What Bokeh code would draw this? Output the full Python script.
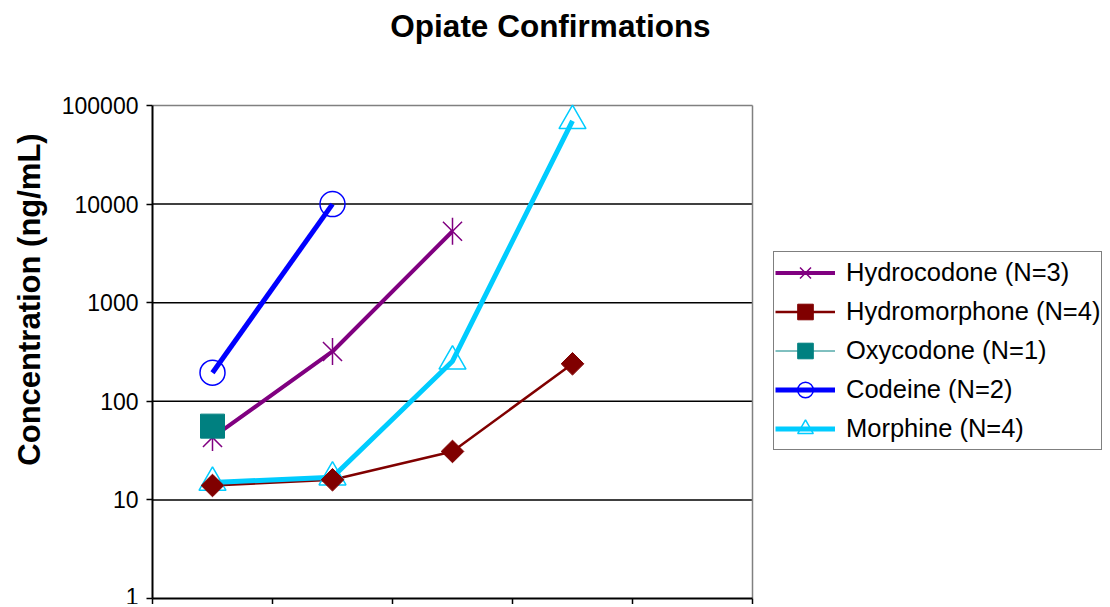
import numpy as np
from bokeh.plotting import figure
from bokeh.models import Legend, LegendItem, FixedTicker, Range1d, Label
from bokeh.embed import file_html
from bokeh.resources import INLINE

# ---- data ----
samples = [1, 2, 3, 4]          # sample positions along the (unlabelled) x axis
n_slots = 5
hydrocodone = [43, 320, 5300]
hydromorphone = [14, 16, 31, 240]
oxycodone = [56]
codeine = [195, 10000]
morphine = [15, 17, 255, 70000]
y_ticks = [1, 10, 100, 1000, 10000, 100000]
series_names = ["Hydrocodone (N=3)", "Hydromorphone (N=4)", "Oxycodone (N=1)",
                "Codeine (N=2)", "Morphine (N=4)"]
title_text = "Opiate Confirmations"

FONT = "Liberation Sans"

# ---- layout constants (pixels) ----
W, H = 1102, 604
LEFT = 152            # frame left inside canvas
PLOT_W = 600          # width of the drawn chart area (5 slots)
TOP_GAP = 105         # space above the 100000 line
FRAME_H_EST = 598     # frame height (canvas minus the small x-axis panel)
frame_w = W - LEFT
x_end = 0.5 + n_slots * frame_w / PLOT_W
x_lo, x_hi = 0.5, n_slots + 0.5
y_lo, y_hi = y_ticks[0], y_ticks[-1]
y_end = 10 ** (np.log10(y_hi) * FRAME_H_EST / (FRAME_H_EST - TOP_GAP))

p = figure(width=W, height=H, y_axis_type="log",
           x_range=Range1d(x_lo, x_end), y_range=Range1d(y_lo, y_end),
           output_backend="svg", toolbar_location=None,
           min_border_left=LEFT, min_border_right=0, min_border_top=0,
           min_border_bottom=0)
p.background_fill_color = "white"
p.border_fill_color = "white"
p.outline_line_color = None
p.xgrid.visible = False
p.ygrid.visible = False

# axes
p.yaxis.ticker = FixedTicker(ticks=y_ticks, minor_ticks=[])
p.yaxis.bounds = (y_lo, y_hi)
p.yaxis.major_label_overrides = {t: str(t) for t in y_ticks}
p.yaxis.major_label_text_font = FONT
p.yaxis.major_label_text_font_size = "23px"
p.yaxis.major_label_text_color = "black"
p.yaxis.major_label_standoff = 8
p.yaxis.major_tick_out = 6
p.yaxis.major_tick_in = 0
p.yaxis.minor_tick_out = 0
p.yaxis.minor_tick_in = 0
p.yaxis.axis_line_width = 2
p.yaxis.axis_line_color = "black"
p.yaxis.major_tick_line_width = 1.5
p.yaxis.axis_label = "Concentration (ng/mL)"
p.yaxis.axis_label_text_font = FONT
p.yaxis.axis_label_text_font_size = "31px"
p.yaxis.axis_label_text_font_style = "bold"
p.yaxis.axis_label_text_color = "black"
p.yaxis.axis_label_standoff = 12

x_ticks = [s + 0.5 for s in range(n_slots + 1)]
p.xaxis.ticker = FixedTicker(ticks=x_ticks, minor_ticks=[])
p.xaxis.bounds = (x_lo, x_hi)
p.xaxis.major_label_overrides = {t: "" for t in x_ticks}
p.xaxis.major_label_text_font_size = "1px"
p.xaxis.major_label_standoff = 0
p.xaxis.major_tick_out = 6
p.xaxis.major_tick_in = 0
p.xaxis.minor_tick_out = 0
p.xaxis.axis_line_width = 2
p.xaxis.axis_line_color = "black"
p.xaxis.major_tick_line_width = 1.5

# grid lines (black) and plot-area border (grey, top and right)
inner = y_ticks[1:-1]
p.segment(x0=[x_lo] * len(inner), y0=inner, x1=[x_hi] * len(inner), y1=inner,
          line_color="black", line_width=1.5)
p.segment(x0=[x_lo, x_hi], y0=[y_hi, y_lo], x1=[x_hi, x_hi], y1=[y_hi, y_hi],
          line_color="#808080", line_width=1.5)

# ---- series ----
xs_h = samples[:len(hydrocodone)]
xs_hm = samples[:len(hydromorphone)]
xs_o = samples[:len(oxycodone)]
xs_c = samples[:len(codeine)]
xs_m = samples[:len(morphine)]

l_h = p.line(xs_h, hydrocodone, line_color="#800080", line_width=4)
l_hm = p.line(xs_hm, hydromorphone, line_color="#800000", line_width=2.5)
l_o = p.line(xs_o, oxycodone, line_color="#008080", line_width=1)
l_c = p.line(xs_c, codeine, line_color="#0000FF", line_width=5)
l_m = p.line(xs_m, morphine, line_color="#00CCFF", line_width=5)

m_m = p.scatter(xs_m, morphine, marker="triangle", size=27, fill_color=None,
                line_color="#00CCFF", line_width=1.5)
m_c = p.scatter(xs_c, codeine, marker="circle", size=25, fill_color=None,
                line_color="#0000FF", line_width=1.5)
m_h1 = p.scatter(xs_h, hydrocodone, marker="x", size=27,
                 line_color="#800080", line_width=1.5)
m_h2 = p.scatter(xs_h, hydrocodone, marker="dash", angle=np.pi / 2, size=27,
                 line_color="#800080", line_width=1.5)
m_hm = p.scatter(xs_hm, hydromorphone, marker="square", angle=np.pi / 4, size=16,
                 fill_color="#800000", line_color="#800000", line_width=1)
m_o = p.scatter(xs_o, oxycodone, marker="square", size=24,
                fill_color="#008080", line_color="#008080")

# title (placed in screen pixels above the chart area)
p.add_layout(Label(x=398, y=FRAME_H_EST - 25, x_units="screen", y_units="screen",
                   text=title_text, text_align="center", text_baseline="alphabetic",
                   text_font=FONT, text_font_size="31.5px", text_font_style="bold",
                   text_color="black"))

items = [
    LegendItem(label=series_names[0], renderers=[l_h, m_h1, m_h2]),
    LegendItem(label=series_names[1], renderers=[l_hm, m_hm]),
    LegendItem(label=series_names[2], renderers=[l_o, m_o]),
    LegendItem(label=series_names[3], renderers=[l_c, m_c]),
    LegendItem(label=series_names[4], renderers=[l_m, m_m]),
]
legend = Legend(items=items, location=(621, FRAME_H_EST - 450), margin=0, padding=1,
                spacing=0, glyph_width=60, glyph_height=39, label_height=39,
                label_standoff=11, label_text_font=FONT, label_text_font_size="25.5px",
                label_text_color="black", border_line_color="black",
                border_line_width=1.5, background_fill_color="white",
                background_fill_alpha=1.0)
p.add_layout(legend, "center")

open("out.html", "w").write(file_html(p, INLINE))
